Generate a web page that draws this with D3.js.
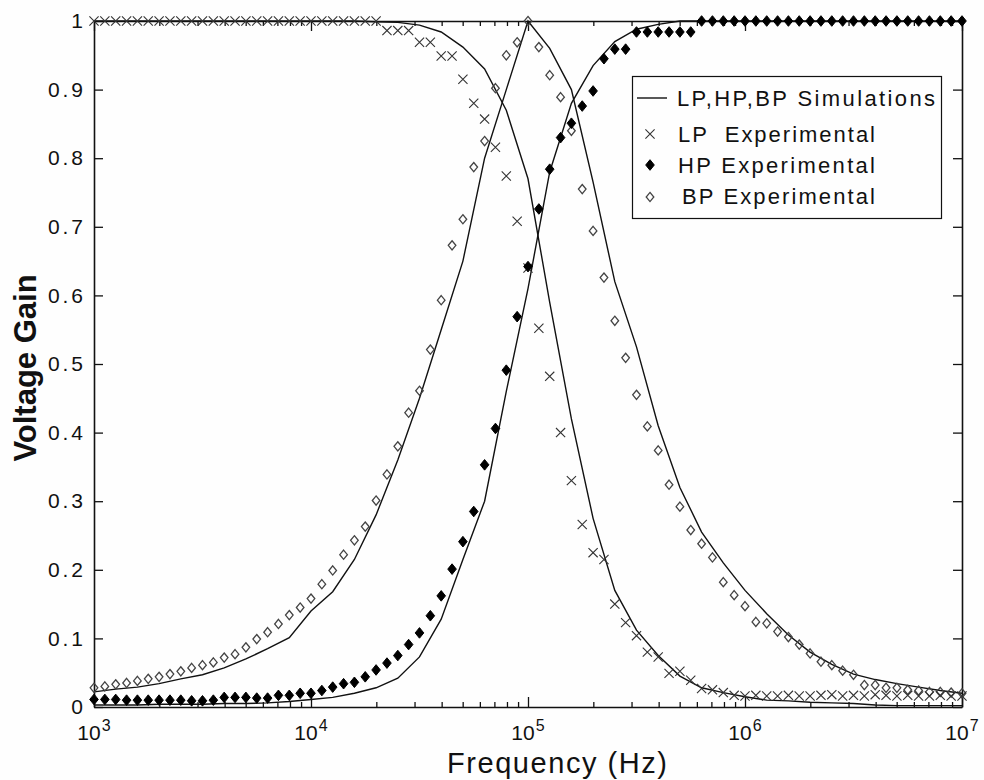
<!DOCTYPE html>
<html>
<head>
<meta charset="utf-8">
<script src="https://cdn.jsdelivr.net/npm/d3@7"></script>
<style>
  html, body { margin: 0; padding: 0; background: #fff; }
  svg { display: block; font-family: "Liberation Sans", Arial, sans-serif; }
</style>
</head>
<body>
<div id="chart"></div>
<script>
// frequency grids (Hz)
const decades = [1e3, 1e4, 1e5, 1e6];
const expMantissa = [1.000, 1.122, 1.259, 1.413, 1.585, 1.778, 1.995, 2.239, 2.512, 2.818,
                     3.162, 3.548, 3.981, 4.467, 5.012, 5.623, 6.310, 7.079, 7.943, 8.913];
const simMantissa = [1.000, 1.259, 1.585, 1.995, 2.512, 3.162, 3.981, 5.012, 6.310, 7.943];
const minorSteps = [2, 3, 4, 5, 6, 7, 8, 9];

// tick labels
const xMajor = [1e3, 1e4, 1e5, 1e6, 1e7];
const xExponents = ['3', '4', '5', '6', '7'];
const yTicks = [0, 0.1, 0.2, 0.3, 0.4, 0.5, 0.6, 0.7, 0.8, 0.9, 1];

// simulated gains, one value per simFreq
const lpSim = [1, 1, 1, 1, 1, 1, 1, 1, 1, 1, 1, 1, 1,
  0.999, 0.998, 0.994, 0.984, 0.962, 0.930, 0.870, 0.770, 0.590, 0.420,
  0.275, 0.170, 0.112, 0.075, 0.045, 0.028, 0.021, 0.015, 0.010, 0.009,
  0.007, 0.006, 0.005, 0.003, 0.002, 0.002, 0.002, 0.002];
const hpSim = [0.003, 0.003, 0.003, 0.004, 0.004, 0.004, 0.005, 0.005, 0.006, 0.008,
  0.011, 0.014, 0.020, 0.028, 0.042, 0.073, 0.128, 0.215, 0.300, 0.460,
  0.610, 0.780, 0.880, 0.935, 0.970, 0.988, 0.995,
  1, 1, 1, 1, 1, 1, 1, 1, 1, 1, 1, 1, 1, 1];
const bpSim = [0.022, 0.026, 0.029, 0.034, 0.041, 0.047, 0.057, 0.070, 0.085, 0.101,
  0.140, 0.168, 0.215, 0.280, 0.360, 0.450, 0.550, 0.650, 0.800, 0.900,
  1.000, 0.960, 0.900, 0.765, 0.620, 0.525, 0.410, 0.320, 0.255, 0.210,
  0.170, 0.136, 0.105, 0.080, 0.062, 0.048, 0.040, 0.034, 0.029, 0.024, 0.020];

// measured gains, one value per expFreq
const lpExp = [1, 1, 1, 1, 1, 1, 1, 1, 1, 1, 1, 1, 1, 1, 1, 1, 1, 1, 1, 1,
  1, 1, 1, 1, 1, 1, 1, 0.986, 0.986, 0.986, 0.969, 0.969, 0.949, 0.949, 0.915,
  0.880, 0.857, 0.816, 0.774, 0.708, 0.640, 0.552, 0.482, 0.400, 0.330,
  0.266, 0.225, 0.215, 0.150, 0.123, 0.104, 0.080, 0.073, 0.049, 0.052,
  0.039, 0.027, 0.025, 0.021, 0.017,
  0.016, 0.017, 0.016, 0.016, 0.017, 0.016, 0.016, 0.017, 0.018, 0.016,
  0.017, 0.016, 0.018, 0.017, 0.016, 0.017, 0.016, 0.016, 0.017, 0.016, 0.016];
const hpExp = [0.011, 0.011, 0.011, 0.010, 0.010, 0.010, 0.010, 0.010, 0.010, 0.009,
  0.009, 0.010, 0.014, 0.014, 0.014, 0.013, 0.013, 0.017, 0.017, 0.020,
  0.020, 0.024, 0.029, 0.034, 0.036, 0.044, 0.054, 0.064, 0.075, 0.091,
  0.108, 0.133, 0.162, 0.201, 0.241, 0.285, 0.353, 0.406, 0.491, 0.569,
  0.642, 0.726, 0.784, 0.830, 0.851, 0.876, 0.898, 0.945, 0.959, 0.959,
  0.984, 0.984, 0.984, 0.984, 0.984, 0.984,
  1, 1, 1, 1, 1, 1, 1, 1, 1, 1, 1, 1, 1, 1, 1, 1, 1, 1, 1, 1, 1, 1, 1, 1, 1];
const bpExp = [0.028, 0.030, 0.033, 0.035, 0.038, 0.041, 0.044, 0.048, 0.052, 0.057,
  0.061, 0.065, 0.072, 0.077, 0.087, 0.099, 0.109, 0.121, 0.134, 0.145,
  0.158, 0.179, 0.199, 0.222, 0.243, 0.263, 0.301, 0.339, 0.380, 0.429,
  0.461, 0.521, 0.593, 0.673, 0.711, 0.787, 0.825, 0.902, 0.950, 0.969,
  1.000, 0.962, 0.921, 0.889, 0.840, 0.755, 0.694, 0.626, 0.563, 0.509,
  0.455, 0.409, 0.374, 0.324, 0.292, 0.258, 0.238, 0.218, 0.182, 0.163,
  0.147, 0.124, 0.122, 0.110, 0.102, 0.091, 0.078, 0.066, 0.061, 0.053,
  0.047, 0.032, 0.032, 0.028, 0.028, 0.025, 0.024, 0.022, 0.022, 0.021, 0.020];

const legendLabels = ['LP,HP,BP Simulations', 'LP  Experimental', 'HP Experimental', 'BP Experimental'];

const expFreq = decades.flatMap(d => expMantissa.map(m => m * d)).concat([1e7]);
const simFreq = decades.flatMap(d => simMantissa.map(m => m * d)).concat([1e7]);
const xMinor = decades.flatMap(d => minorSteps.map(m => m * d));

const W = 984, H = 780;
const plot = { left: 94, right: 962, top: 21, bottom: 707 };

const svg = d3.select('#chart').append('svg')
  .attr('width', W).attr('height', H);

svg.append('rect').attr('width', W).attr('height', H).attr('fill', '#fefefe');

const x = d3.scaleLog().domain([1e3, 1e7]).range([plot.left, plot.right]);
const y = d3.scaleLinear().domain([0, 1]).range([plot.bottom, plot.top]);

// --- axes (ticks point inward, box all round)
function styleAxis(g) {
  g.select('.domain').attr('stroke', '#111').attr('stroke-width', 1.6);
  g.selectAll('.tick line').attr('stroke', '#111').attr('stroke-width', 1.3);
}

svg.append('g').attr('transform', `translate(0,${plot.bottom})`)
  .call(d3.axisBottom(x).tickValues(xMajor).tickSize(-10).tickSizeOuter(0).tickFormat(''))
  .call(styleAxis);
svg.append('g').attr('transform', `translate(0,${plot.bottom})`)
  .call(d3.axisBottom(x).tickValues(xMinor).tickSize(-5).tickFormat(''))
  .call(g => g.select('.domain').remove())
  .call(styleAxis);
svg.append('g').attr('transform', `translate(0,${plot.top})`)
  .call(d3.axisTop(x).tickValues(xMajor).tickSize(-10).tickSizeOuter(0).tickFormat(''))
  .call(styleAxis);
svg.append('g').attr('transform', `translate(0,${plot.top})`)
  .call(d3.axisTop(x).tickValues(xMinor).tickSize(-5).tickFormat(''))
  .call(g => g.select('.domain').remove())
  .call(styleAxis);

const yLeft = svg.append('g').attr('transform', `translate(${plot.left},0)`)
  .call(d3.axisLeft(y).tickValues(yTicks).tickSize(-9).tickSizeOuter(0)
    .tickPadding(11).tickFormat(d3.format('~f')))
  .call(styleAxis);
yLeft.selectAll('.tick text')
  .attr('font-size', 21).attr('fill', '#111')
  .attr('font-family', '"Liberation Sans", Arial, sans-serif')
  .each(function(d) {
    if (this.textContent.length > 1) d3.select(this).attr('textLength', 35).attr('lengthAdjust', 'spacing');
  });

svg.append('g').attr('transform', `translate(${plot.right},0)`)
  .call(d3.axisRight(y).tickValues(yTicks).tickSize(-9).tickSizeOuter(0).tickFormat(''))
  .call(styleAxis);

// x tick labels as 10^n
const xLab = svg.append('g').attr('fill', '#111');
xMajor.forEach((v, i) => {
  const t = xLab.append('text')
    .attr('x', x(v)).attr('y', 740)
    .attr('text-anchor', 'middle');
  t.append('tspan').attr('font-size', 21).text('10');
  t.append('tspan').attr('font-size', 16).attr('dy', -9).attr('dx', 1).text(xExponents[i]);
});

// axis titles
svg.append('text')
  .attr('x', 557).attr('y', 773)
  .attr('text-anchor', 'middle')
  .attr('font-size', 29)
  .attr('textLength', 220).attr('lengthAdjust', 'spacing')
  .attr('fill', '#111')
  .text('Frequency (Hz)');

svg.append('text')
  .attr('transform', 'translate(36,368) rotate(-90)')
  .attr('text-anchor', 'middle')
  .attr('font-size', 31).attr('font-weight', 'bold')
  .attr('fill', '#111')
  .text('Voltage Gain');

// --- simulated curves
const line = d3.line().x(d => x(d[0])).y(d => y(d[1]));
[lpSim, hpSim, bpSim].forEach(series => {
  svg.append('path')
    .datum(simFreq.map((f, i) => [f, series[i]]))
    .attr('d', line)
    .attr('fill', 'none')
    .attr('stroke', '#111')
    .attr('stroke-width', 1.4);
});

// --- markers
function drawCross(g, cx, cy, r) {
  g.append('path')
    .attr('d', `M${cx - r},${cy - r}L${cx + r},${cy + r}M${cx - r},${cy + r}L${cx + r},${cy - r}`)
    .attr('stroke', '#333').attr('stroke-width', 1.1).attr('fill', 'none');
}
function drawDiamond(g, cx, cy, rx, ry, filled) {
  g.append('path')
    .attr('d', `M${cx},${cy - ry}L${cx + rx},${cy}L${cx},${cy + ry}L${cx - rx},${cy}Z`)
    .attr('fill', filled ? '#000' : 'none')
    .attr('stroke', filled ? '#000' : '#444')
    .attr('stroke-width', filled ? 1 : 1.3);
}

const marks = svg.append('g');
expFreq.forEach((f, i) => {
  drawDiamond(marks, x(f), y(bpExp[i]), 3.8, 4.6, false);
  drawCross(marks, x(f), y(lpExp[i]), 4.6);
  drawDiamond(marks, x(f), y(hpExp[i]), 4.3, 5.3, true);
});

// --- legend
const lg = svg.append('g');
lg.append('rect')
  .attr('x', 632.5).attr('y', 76.5).attr('width', 309).attr('height', 142)
  .attr('fill', '#fefefe').attr('stroke', '#111').attr('stroke-width', 1.2);
lg.append('line')
  .attr('x1', 637).attr('x2', 667).attr('y1', 98).attr('y2', 98)
  .attr('stroke', '#111').attr('stroke-width', 1.4);
drawCross(lg, 650, 134, 4.6);
drawDiamond(lg, 650, 165, 4.3, 5.3, true);
drawDiamond(lg, 650, 197, 3.8, 4.6, false);

const legendRows = [
  { y: 106, x: 677, w: 258 },
  { y: 142, x: 678, w: 197 },
  { y: 173, x: 678, w: 197 },
  { y: 204, x: 682, w: 193 }
];
legendLabels.forEach((label, i) => {
  lg.append('text')
    .attr('x', legendRows[i].x).attr('y', legendRows[i].y)
    .attr('font-size', 22)
    .attr('textLength', legendRows[i].w).attr('lengthAdjust', 'spacing')
    .attr('fill', '#111')
    .attr('xml:space', 'preserve')
    .text(label);
});
</script>
</body>
</html>
